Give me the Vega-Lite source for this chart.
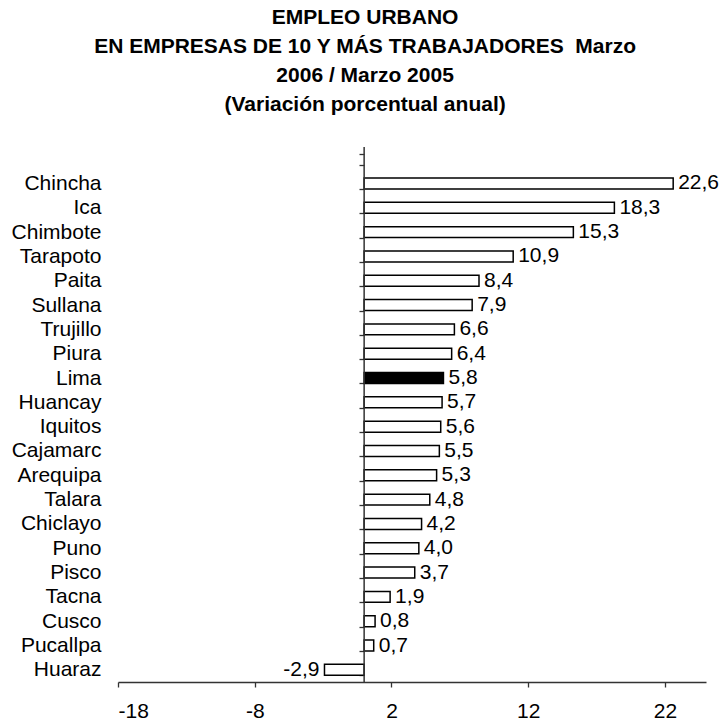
{
  "$schema": "https://vega.github.io/schema/vega-lite/v6.json",
  "autosize": {"type": "none"},
  "width": 588,
  "height": 535,
  "padding": {"left": 118, "top": 147, "right": 16, "bottom": 38},
  "background": "white",
  "config": {
    "view": {"stroke": null},
    "font": "Liberation Sans",
    "locale": {"number": {"decimal": ",", "thousands": ".", "grouping": [3], "currency": ["", ""], "minus": "-"}}
  },
  "title": {
    "text": ["EMPLEO URBANO", "EN EMPRESAS DE 10 Y MÁS TRABAJADORES \u00a0Marzo", "2006 / Marzo 2005", "(Variación porcentual anual)"],
    "font": "Liberation Sans",
    "fontSize": 21,
    "fontWeight": "bold",
    "lineHeight": 29,
    "anchor": "middle",
    "frame": "bounds",
    "offset": 21,
    "color": "black"
  },
  "data": {
    "values": [
      {"ciudad": "Chincha", "valor": 22.6},
      {"ciudad": "Ica", "valor": 18.3},
      {"ciudad": "Chimbote", "valor": 15.3},
      {"ciudad": "Tarapoto", "valor": 10.9},
      {"ciudad": "Paita", "valor": 8.4},
      {"ciudad": "Sullana", "valor": 7.9},
      {"ciudad": "Trujillo", "valor": 6.6},
      {"ciudad": "Piura", "valor": 6.4},
      {"ciudad": "Lima", "valor": 5.8},
      {"ciudad": "Huancay", "valor": 5.7},
      {"ciudad": "Iquitos", "valor": 5.6},
      {"ciudad": "Cajamarc", "valor": 5.5},
      {"ciudad": "Arequipa", "valor": 5.3},
      {"ciudad": "Talara", "valor": 4.8},
      {"ciudad": "Chiclayo", "valor": 4.2},
      {"ciudad": "Puno", "valor": 4.0},
      {"ciudad": "Pisco", "valor": 3.7},
      {"ciudad": "Tacna", "valor": 1.9},
      {"ciudad": "Cusco", "valor": 0.8},
      {"ciudad": "Pucallpa", "valor": 0.7},
      {"ciudad": "Huaraz", "valor": -2.9}
    ]
  },
  "layer": [
    {
      "mark": {"type": "bar", "stroke": "black", "strokeWidth": 1.5},
      "encoding": {
        "y": {
          "field": "ciudad",
          "type": "nominal",
          "scale": {
            "domain": [" ", "Chincha", "Ica", "Chimbote", "Tarapoto", "Paita", "Sullana", "Trujillo", "Piura", "Lima", "Huancay", "Iquitos", "Cajamarc", "Arequipa", "Talara", "Chiclayo", "Puno", "Pisco", "Tacna", "Cusco", "Pucallpa", "Huaraz"],
            "paddingInner": 0.55,
            "paddingOuter": 0.275
          },
          "axis": {
            "title": null,
            "orient": "left",
            "offset": -246,
            "domain": false,
            "ticks": true,
            "tickBand": "extent",
            "tickSize": 5,
            "tickWidth": 1.3,
            "tickColor": "#333333",
            "labelPadding": 258,
            "labelFont": "Liberation Sans",
            "labelFontSize": 21,
            "labelColor": "black",
            "labelAlign": "right",
            "labelBaseline": "middle",
            "labelLimit": 300
          }
        },
        "x": {
          "field": "valor",
          "type": "quantitative",
          "scale": {"domain": [-18, 25], "nice": false, "zero": false},
          "axis": {
            "title": null,
            "values": [-18, -8, 2, 12, 22],
            "format": "d",
            "grid": false,
            "domainColor": "#333333",
            "domainWidth": 1.5,
            "tickColor": "#333333",
            "tickWidth": 1.3,
            "tickSize": 5,
            "labelPadding": 13,
            "labelFont": "Liberation Sans",
            "labelFontSize": 21,
            "labelColor": "black"
          }
        },
        "fill": {
          "condition": {"test": "datum.ciudad === 'Lima'", "value": "black"},
          "value": "white"
        }
      }
    },
    {
      "data": {"values": [{"cero": 0}]},
      "mark": {"type": "rule", "color": "#333333", "strokeWidth": 1.5},
      "encoding": {"x": {"field": "cero", "type": "quantitative"}}
    },
    {
      "transform": [{"filter": "datum.valor >= 0"}],
      "mark": {"type": "text", "align": "left", "baseline": "middle", "dx": 5, "fontSize": 21, "font": "Liberation Sans", "color": "black"},
      "encoding": {
        "y": {"field": "ciudad", "type": "nominal"},
        "x": {"field": "valor", "type": "quantitative"},
        "text": {"field": "valor", "type": "quantitative", "format": ".1f"}
      }
    },
    {
      "transform": [{"filter": "datum.valor < 0"}],
      "mark": {"type": "text", "align": "right", "baseline": "middle", "dx": -5, "fontSize": 21, "font": "Liberation Sans", "color": "black"},
      "encoding": {
        "y": {"field": "ciudad", "type": "nominal"},
        "x": {"field": "valor", "type": "quantitative"},
        "text": {"field": "valor", "type": "quantitative", "format": ".1f"}
      }
    }
  ]
}
